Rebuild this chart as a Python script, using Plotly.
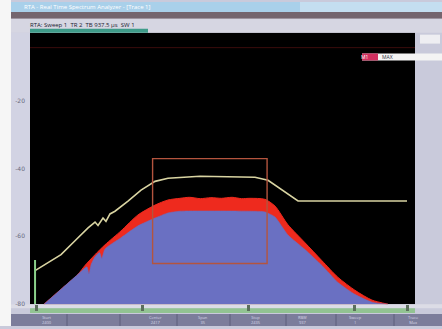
import plotly.graph_objects as go

W, H = 442, 329

# ---- spectrum data (frequency in MHz, level in dBm) ----
red_f = [2400.75, 2402.36, 2403.96, 2404.62, 2405.57, 2406.51, 2408.02, 2409.62,
         2411.23, 2412.45, 2413.58, 2414.5, 2415.5, 2416.5, 2417.5, 2418.5, 2419.4,
         2420.19, 2421.60, 2422.55, 2423.77, 2425.38, 2426.98, 2428.49, 2430.09,
         2431.70, 2433.21]
red_db = [-80.0, -75.6, -71.2, -68.6, -65.4, -62.5, -58.4, -53.7,
          -50.8, -49.3, -48.8, -48.5, -48.9, -48.6, -48.8, -48.5, -48.9,
          -48.8, -49.1, -51.1, -56.6, -61.9, -67.2, -72.1, -75.9,
          -78.8, -80.0]

blue_f = [2400.75, 2402.36, 2403.96, 2404.8, 2405.0, 2405.2, 2405.57, 2406.0, 2406.2,
          2406.51, 2408.02, 2409.62, 2411.23, 2412.45, 2413.58, 2420.19, 2421.60,
          2422.55, 2423.77, 2425.38, 2426.98, 2428.49, 2430.09, 2431.70, 2433.21]
blue_db = [-80.0, -75.6, -71.2, -69.0, -71.0, -68.3, -66.0, -64.8, -66.5,
           -63.7, -60.4, -56.9, -54.6, -53.1, -52.6, -52.6, -52.8,
           -54.3, -59.6, -63.9, -68.6, -73.6, -77.1, -79.4, -80.0]

peak_f = [2399.91, 2401.13, 2402.36, 2403.68, 2404.91, 2405.57, 2405.85, 2406.32,
          2406.60, 2406.98, 2407.45, 2408.68, 2409.91, 2411.23, 2412.45, 2415.47,
          2420.66, 2421.89, 2424.72, 2435.0]
peak_db = [-70.1, -67.7, -65.4, -61.3, -57.5, -55.8, -56.8, -54.6,
           -55.6, -53.4, -52.6, -49.6, -46.4, -43.8, -42.9, -42.3,
           -42.6, -43.5, -49.6, -49.6]

spike_f = [2399.91, 2399.91]
spike_db = [-80.0, -67.0]

zone_f = [2411.0, 2421.8]
zone_db = [-68.0, -37.1]
display_line_db = -4.4

x_ticks = [2400, 2410, 2420, 2430, 2435]
y_ticks = [-80, -60, -40, -20]
y_tick_text = ["-80", "-60", "-40", "-20"]

softkeys = ["Start\n2400", "Center\n2417", "Span\n35", "Stop\n2435",
            "RBW\n937", "Sweep\n1", "Trace\nMax"]


def px(x):
    return x / W


def py(y):
    return 1 - y / H


fig = go.Figure()

fig.add_trace(go.Scatter(x=red_f, y=red_db, fill="toself", mode="lines",
                         line=dict(color="#ee2a1e", width=1, shape="spline", smoothing=0.7),
                         fillcolor="#ee2a1e", hoverinfo="skip"))
fig.add_trace(go.Scatter(x=blue_f, y=blue_db, fill="toself", mode="lines",
                         line=dict(color="#6a70c2", width=0.5, shape="spline", smoothing=0.5),
                         fillcolor="#6a70c2", hoverinfo="skip"))
fig.add_trace(go.Scatter(x=peak_f, y=peak_db, mode="lines",
                         line=dict(color="#d9d4a2", width=1.6)))
fig.add_trace(go.Scatter(x=spike_f, y=spike_db, mode="lines",
                         line=dict(color="#8ad08a", width=2)))

shapes = []
# measurement zone
shapes.append(dict(type="rect", xref="x", yref="y", x0=zone_f[0], x1=zone_f[1],
                   y0=zone_db[0], y1=zone_db[1],
                   line=dict(color="#b4543e", width=1.4), layer="above"))
# display line
shapes.append(dict(type="line", xref="paper", yref="y", x0=px(30), x1=px(415),
                   y0=display_line_db, y1=display_line_db,
                   line=dict(color="#3a0c0c", width=1), layer="above"))
# window chrome
chrome = [
    dict(x0=0, x1=px(11), y0=0, y1=1, fillcolor="#f6f6f6"),
    dict(x0=px(11), x1=1, y0=py(12), y1=py(2), fillcolor="#a9d0ea"),
    dict(x0=px(300), x1=1, y0=py(12), y1=py(2), fillcolor="#c4def0"),
    dict(x0=px(11), x1=1, y0=py(19), y1=py(12), fillcolor="#74656e"),
    dict(x0=px(11), x1=1, y0=py(33), y1=py(19), fillcolor="#d6d6e2"),
    dict(x0=px(11), x1=px(30), y0=py(307), y1=py(33), fillcolor="#d2d3e3"),
    dict(x0=px(11), x1=1, y0=py(311), y1=py(307), fillcolor="#dcdce6"),
    dict(x0=px(30), x1=px(415), y0=py(316), y1=py(311), fillcolor="#92c392"),
    dict(x0=px(11), x1=1, y0=0, y1=py(317), fillcolor="#7c7d9b"),
    dict(x0=px(420), x1=px(440), y0=py(44), y1=py(35), fillcolor="#eeeef2"),
    dict(x0=px(362), x1=1, y0=py(61), y1=py(54), fillcolor="#f4f4f4"),
    dict(x0=px(362), x1=px(378), y0=py(61), y1=py(54), fillcolor="#d03060"),
    dict(x0=px(30), x1=px(148), y0=py(33), y1=py(29), fillcolor="#3f9c8a"),
]
for c in chrome:
    c.update(type="rect", xref="paper", yref="paper", line_width=0, layer="below")
    shapes.append(c)
for sx in [67, 120, 177, 230, 286, 336, 394]:
    shapes.append(dict(type="line", xref="paper", yref="paper", x0=px(sx), x1=px(sx),
                       y0=0, y1=py(317), line=dict(color="#5d5e7a", width=1),
                       layer="below"))

annotations = [
    dict(x=px(22), y=py(7), text="RTA - Real Time Spectrum Analyzer - [Trace 1]",
         xanchor="left", font=dict(size=6, color="#ffffff")),
    dict(x=px(28), y=py(25), text="RTA: Sweep 1  TR 2  TB 937.5 µs  SW 1",
         xanchor="left", font=dict(size=6, color="#202030")),
    dict(x=px(380), y=py(57.5), text="MAX", xanchor="left",
         font=dict(size=5, color="#303040")),
    dict(x=px(370), y=py(57.5), text="M1", font=dict(size=5, color="#ffffff")),
]
label_x = [40, 147, 203, 256, 309, 364, 421]
for lx, txt in zip(label_x, softkeys):
    annotations.append(dict(x=px(lx), y=py(323), text=txt.replace("\n", "<br>"),
                            font=dict(size=4, color="#d8d8e8")))
for a in annotations:
    a.update(xref="paper", yref="paper", showarrow=False, yanchor="middle")

fig.update_layout(
    width=W, height=H,
    margin=dict(l=0, r=0, t=0, b=0),
    paper_bgcolor="#c9cadb",
    plot_bgcolor="#000000",
    showlegend=False,
    shapes=shapes,
    annotations=annotations,
    xaxis=dict(domain=[px(30), px(415)], range=[2399.434, 2435.755],
               tickvals=x_ticks, showticklabels=False, ticks="outside",
               ticklen=6, tickwidth=3, tickcolor="#5c6e5c",
               showgrid=False, zeroline=False, showline=False),
    yaxis=dict(domain=[py(307), py(33)], range=[-80, 0],
               tickvals=y_ticks, ticktext=y_tick_text, ticks="",
               tickfont=dict(size=6, color="#6a6a7e", family="DejaVu Sans"),
               ticklabelstandoff=4,
               showgrid=False, zeroline=False, showline=False),
)

fig.write_html("out.html")
